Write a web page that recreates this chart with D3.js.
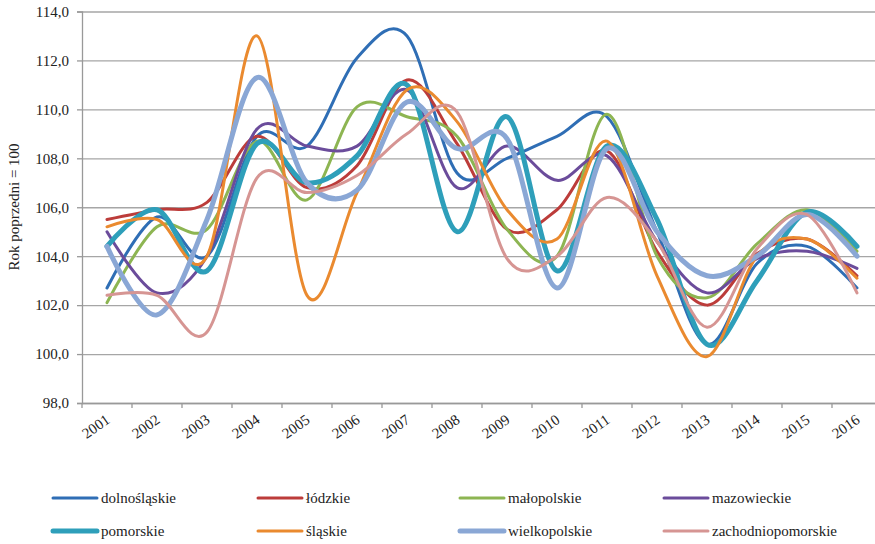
<!DOCTYPE html>
<html>
<head>
<meta charset="utf-8">
<script src="https://cdn.jsdelivr.net/npm/d3@7/dist/d3.min.js"></script>
<style>
  body { margin: 0; background: #fff; }
  text { font-family: "Liberation Serif", "Times New Roman", serif; fill: #222; }
</style>
</head>
<body>
<svg width="875" height="544"></svg>
<script>

// Years and yearly index values (previous year = 100)
const years = ['2001', '2002', '2003', '2004', '2005', '2006', '2007', '2008',
    '2009', '2010', '2011', '2012', '2013', '2014', '2015', '2016'];

const dolnoslaskie       = [102.7, 105.6, 104.0, 108.9, 108.5, 112.1, 113.0, 107.4, 108.0, 108.9, 109.7, 105.0, 100.4, 103.7, 104.4, 102.7];
const lodzkie            = [105.5, 105.9, 106.2, 108.9, 106.8, 107.7, 111.2, 108.6, 105.1, 105.9, 108.3, 104.2, 102.0, 104.1, 104.7, 103.2];
const malopolskie        = [102.1, 105.2, 105.1, 108.7, 106.3, 110.1, 109.7, 108.9, 105.1, 104.0, 109.8, 104.0, 102.3, 104.5, 105.9, 104.2];
const mazowieckie        = [105.0, 102.5, 104.0, 109.2, 108.5, 108.5, 110.8, 106.8, 108.5, 107.1, 108.1, 104.6, 102.5, 103.9, 104.2, 103.5];
const pomorskie          = [104.4, 105.9, 103.4, 108.6, 107.0, 108.1, 111.0, 105.0, 109.7, 103.4, 108.5, 105.5, 100.4, 103.0, 105.8, 104.4];
const slaskie            = [105.2, 105.5, 104.0, 113.0, 102.4, 106.6, 110.8, 109.5, 105.9, 104.7, 108.7, 103.2,  99.9, 104.0, 104.7, 103.1];
const wielkopolskie      = [104.4, 101.6, 105.5, 111.3, 107.0, 106.7, 110.3, 108.4, 108.8, 102.7, 108.4, 105.0, 103.2, 104.0, 105.7, 104.0];
const zachodniopomorskie = [102.4, 102.4, 100.9, 107.2, 106.6, 107.3, 109.0, 109.9, 103.9, 104.0, 106.4, 104.6, 101.1, 104.3, 105.7, 102.5];

const yTicks = [98, 100, 102, 104, 106, 108, 110, 112, 114];

const series = [
    { name: 'dolnośląskie', values: dolnoslaskie, color: '#2f6eb5', width: 3 },
    { name: 'łódzkie', values: lodzkie, color: '#bc3c3a', width: 3 },
    { name: 'małopolskie', values: malopolskie, color: '#8db552', width: 3 },
    { name: 'mazowieckie', values: mazowieckie, color: '#6b4c9b', width: 3 },
    { name: 'pomorskie', values: pomorskie, color: '#2e9fba', width: 5 },
    { name: 'śląskie', values: slaskie, color: '#ea8a2f', width: 3 },
    { name: 'wielkopolskie', values: wielkopolskie, color: '#8aa7d5', width: 5 },
    { name: 'zachodniopomorskie', values: zachodniopomorskie, color: '#d69593', width: 3 }
];

const svg = d3.select('svg');

const plotLeft = 82, plotRight = 882, plotTop = 11.5, plotBottom = 403;

let x = d3.scaleBand()
    .domain(years)
    .range([plotLeft, plotRight]);

let y = d3.scaleLinear()
    .domain([98, 114])
    .range([plotBottom, plotTop]);

const bw = x.bandwidth();

// Grid
svg.append('g')
    .attr('transform', `translate(${plotLeft},0)`)
    .call(d3.axisLeft(y).tickValues(yTicks).tickSize(-(875 - plotLeft)).tickFormat(''))
    .call(g => g.select('.domain').remove())
    .call(g => g.selectAll('line').attr('stroke', '#a6a6a6').attr('stroke-width', 1.3));

// Y axis
svg.append('g')
    .attr('transform', `translate(${plotLeft},0)`)
    .call(d3.axisLeft(y).tickValues(yTicks).tickSize(5).tickPadding(8)
        .tickFormat(d => d.toFixed(1).replace('.', ',')))
    .call(g => g.select('.domain').attr('stroke', '#999').attr('stroke-width', 1.3))
    .call(g => g.selectAll('line').attr('stroke', '#999').attr('stroke-width', 1.3))
    .call(g => g.selectAll('text').attr('font-size', 15).attr('fill', '#222'));

// X axis
svg.append('g')
    .attr('transform', `translate(0,${plotBottom})`)
    .call(d3.axisBottom(x).tickSize(5).tickSizeOuter(0))
    .call(g => g.select('.domain').attr('stroke', '#999').attr('stroke-width', 1.3))
    .call(g => g.selectAll('.tick line')
        .attr('x1', -bw / 2).attr('x2', -bw / 2)
        .attr('stroke', '#999').attr('stroke-width', 1.3))
    .call(g => g.selectAll('.tick text')
        .attr('x', 0).attr('y', 0).attr('dy', 0)
        .attr('font-size', 15).attr('fill', '#222')
        .attr('text-anchor', 'end')
        .attr('transform', 'translate(4,19) rotate(-35)'));

// Y axis title
svg.append('text')
    .attr('transform', 'translate(19,207) rotate(-90)')
    .attr('text-anchor', 'middle')
    .attr('font-size', 15)
    .text('Rok poprzedni = 100');

// Lines
let lineGen = d3.line()
    .x((d, i) => x(years[i]) + bw / 2)
    .y(d => y(d))
    .curve(d3.curveCardinal.tension(0));

svg.append('g')
    .selectAll('path')
    .data(series)
    .enter()
    .append('path')
    .attr('fill', 'none')
    .attr('stroke', d => d.color)
    .attr('stroke-width', d => d.width)
    .attr('stroke-linecap', 'round')
    .attr('d', d => lineGen(d.values));

// Legend
const legendX = [53, 258, 460, 664];
const legendY = [498, 531];

let lg = svg.append('g')
    .selectAll('g')
    .data(series)
    .enter()
    .append('g')
    .attr('transform', (d, i) => `translate(${legendX[i % 4]},${legendY[Math.floor(i / 4)]})`);

lg.append('line')
    .attr('x1', 0).attr('x2', 44)
    .attr('stroke', d => d.color)
    .attr('stroke-width', d => d.width)
    .attr('stroke-linecap', 'round');

lg.append('text')
    .attr('x', 48)
    .attr('dy', '0.33em')
    .attr('font-size', 15)
    .text(d => d.name);

</script>
</body>
</html>
